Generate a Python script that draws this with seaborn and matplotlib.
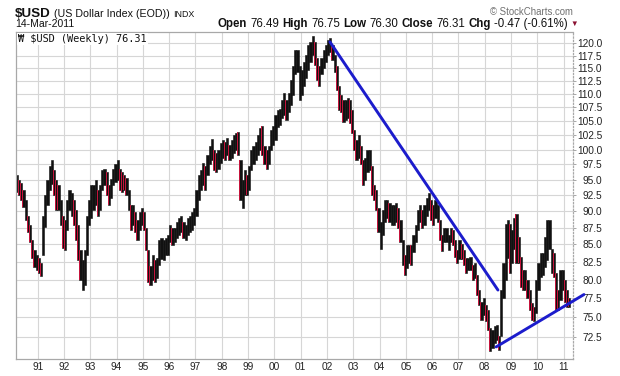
import numpy as np
import pandas as pd
import matplotlib
matplotlib.use("Agg")
import matplotlib.pyplot as plt
import seaborn as sns

# -----------------------------------
# Data (monthly low / high)
# -----------------------------------
first_month = "1990-03"

lows = [
    # 1990 (Mar-Dec)
    93.0, 92.5, 91.7, 90.6, 88.6, 86.8, 85.4, 83.0, 81.7, 81.4,
    # 1991
    80.9, 80.5, 83.5, 87.6, 90.9, 93.3, 94.2, 92.5, 90.1, 90.1, 87.9, 84.5,
    # 1992
    84.2, 87.1, 90.1, 89.3, 87.9, 85.6, 82.7, 80.0, 78.6, 79.3, 83.5, 87.9,
    # 1993
    88.9, 90.1, 90.9, 89.3, 90.1, 93.3, 94.1, 92.5, 90.9, 92.0, 94.1, 94.6,
    # 1994
    94.9, 93.3, 93.0, 93.3, 92.5, 90.1, 87.1, 87.9, 86.8, 85.6, 87.1, 87.9,
    # 1995
    87.1, 84.2, 79.7, 79.3, 80.0, 79.7, 80.3, 82.0, 82.9, 82.7, 83.5, 83.5,
    # 1996
    85.3, 84.9, 85.3, 85.9, 86.4, 86.8, 85.9, 85.6, 86.4, 86.8, 87.1, 87.9,
    # 1997
    89.3, 91.7, 93.3, 94.1, 93.3, 95.7, 97.5, 98.2, 96.5, 96.2, 96.8, 97.8,
    # 1998
    98.5, 98.2, 99.0, 98.2, 98.5, 99.4, 99.9, 99.0, 91.7, 90.4, 92.5, 92.5,
    # 1999
    93.3, 96.5, 97.5, 98.2, 99.0, 99.9, 99.0, 97.5, 96.8, 97.5, 99.9, 100.8,
    # 2000
    101.6, 103.9, 104.4, 105.6, 106.1, 105.2, 106.6, 107.9, 109.8, 113.8, 114.2, 108.8,
    # 2001
    109.8, 111.6, 113.0, 114.6, 116.2, 117.6, 115.6, 112.6, 111.6, 113.8, 115.0, 116.2,
    # 2002
    117.6, 118.2, 116.6, 114.2, 110.7, 107.0, 106.7, 104.9, 105.2, 105.6, 104.6, 102.9,
    # 2003
    99.9, 98.2, 98.5, 97.5, 94.1, 94.9, 96.2, 96.5, 92.5, 91.7, 90.1, 86.8,
    # 2004
    84.4, 86.4, 88.3, 88.9, 88.3, 87.9, 87.9, 88.3, 87.4, 85.3, 82.0, 80.6,
    # 2005
    81.6, 82.4, 82.0, 83.9, 85.3, 87.1, 88.3, 87.4, 87.9, 89.3, 90.1, 88.6,
    # 2006
    87.9, 88.9, 88.3, 85.6, 84.0, 85.3, 85.4, 84.2, 85.3, 84.9, 83.2, 82.4,
    # 2007
    82.9, 82.9, 82.0, 80.9, 81.3, 81.3, 80.0, 80.3, 78.0, 76.6, 74.7, 75.3,
    # 2008
    74.5, 73.4, 70.8, 71.2, 71.8, 72.2, 70.9, 72.6, 77.5, 80.0, 83.0, 81.0,
    # 2009
    82.3, 84.4, 82.3, 82.3, 79.0, 78.6, 78.6, 77.6, 75.9, 74.7, 74.5, 75.6,
    # 2010
    78.6, 80.4, 80.6, 81.7, 82.7, 84.4, 81.0, 80.4, 75.9, 75.9, 77.3, 78.6,
    # 2011 (Jan-Mar)
    77.0, 76.3, 76.3,
]

highs = [
    # 1990 (Mar-Dec)
    95.7, 94.9, 94.4, 93.3, 91.7, 89.3, 87.9, 85.6, 84.2, 83.5,
    # 1991
    83.0, 82.3, 89.3, 92.5, 94.9, 97.3, 98.3, 96.5, 94.9, 94.1, 91.7, 89.3,
    # 1992
    88.6, 91.7, 93.3, 92.8, 91.7, 90.1, 87.9, 84.2, 82.7, 84.2, 89.3, 91.7,
    # 1993
    94.1, 94.1, 94.9, 93.3, 94.1, 96.5, 96.8, 96.2, 94.1, 95.1, 96.8, 97.5,
    # 1994
    98.2, 96.8, 96.2, 95.7, 95.2, 93.3, 90.9, 90.9, 89.8, 88.6, 89.8, 90.4,
    # 1995
    89.8, 87.4, 84.2, 81.9, 83.5, 82.7, 83.0, 85.6, 85.9, 85.6, 85.9, 86.4,
    # 1996
    87.9, 87.4, 87.4, 88.3, 88.9, 89.3, 88.3, 87.9, 88.9, 89.3, 89.8, 90.4,
    # 1997
    93.3, 95.7, 96.5, 97.7, 97.3, 99.0, 100.7, 101.9, 99.9, 99.5, 99.9, 101.1,
    # 1998
    101.6, 101.3, 102.0, 100.8, 101.6, 102.6, 102.9, 103.0, 98.2, 94.9, 96.5, 95.7,
    # 1999
    97.3, 99.9, 100.7, 101.3, 102.5, 103.7, 104.2, 100.7, 99.9, 100.7, 103.4, 104.2,
    # 2000
    106.1, 107.0, 107.3, 108.8, 110.2, 108.8, 110.2, 112.6, 115.5, 118.6, 118.6, 115.5,
    # 2001
    114.6, 116.2, 117.6, 119.6, 120.3, 121.5, 120.3, 117.0, 115.5, 117.0, 118.6, 119.6,
    # 2002
    120.7, 121.1, 119.6, 117.6, 115.5, 111.5, 109.8, 108.8, 108.8, 109.2, 108.8, 107.0,
    # 2003
    103.4, 101.6, 102.5, 100.7, 98.2, 98.5, 99.9, 99.9, 97.3, 94.1, 93.3, 90.4,
    # 2004
    88.3, 90.1, 91.7, 91.7, 91.2, 90.9, 90.9, 91.2, 90.4, 88.6, 85.6, 83.5,
    # 2005
    84.9, 84.9, 84.9, 86.4, 87.9, 90.1, 90.9, 90.1, 90.9, 92.0, 92.8, 91.7,
    # 2006
    90.9, 91.7, 90.9, 88.6, 86.4, 87.4, 87.4, 86.4, 87.4, 87.1, 85.6, 84.2,
    # 2007
    85.6, 85.1, 84.2, 83.0, 83.0, 83.2, 82.0, 82.4, 80.6, 78.6, 77.0, 77.6,
    # 2008
    76.6, 76.0, 73.7, 73.4, 73.9, 74.0, 72.6, 78.6, 82.3, 88.1, 88.6, 88.1,
    # 2009
    87.1, 89.0, 89.6, 86.1, 83.2, 81.3, 81.3, 80.0, 78.6, 76.9, 76.3, 80.0,
    # 2010
    82.3, 83.7, 83.7, 86.1, 88.6, 88.6, 84.4, 83.7, 81.0, 78.6, 81.3, 81.3,
    # 2011 (Jan-Mar)
    80.0, 78.6, 77.6,
]

# trend lines (decimal year, index value)
down_trend_x = [2002.11, 2008.50]
down_trend_y = [120.3, 78.6]
up_trend_x = [2008.43, 2011.77]
up_trend_y = [71.3, 78.0]

y_ticks = [72.5, 75.0, 77.5, 80.0, 82.5, 85.0, 87.5, 90.0, 92.5, 95.0,
           97.5, 100.0, 102.5, 105.0, 107.5, 110.0, 112.5, 115.0, 117.5, 120.0]
years = list(range(1991, 2012))
year_labels = ["91", "92", "93", "94", "95", "96", "97", "98", "99", "00",
               "01", "02", "03", "04", "05", "06", "07", "08", "09", "10", "11"]

# -----------------------------------
# Prepare frame
# -----------------------------------
dates = pd.date_range(first_month, periods=len(lows), freq="MS")
df = pd.DataFrame({
    "x": dates.year + (dates.month - 1) / 12,
    "low": lows,
    "high": highs,
})
df["mid"] = (df["low"] + df["high"]) / 2
df["down"] = df["mid"].diff().fillna(0) < 0
down = df[df["down"]]

black = "#111111"
red = "#c4143c"
blue = "#1c1ccc"

# -----------------------------------
# Style
# -----------------------------------
sns.set_style("white")
plt.rcParams["font.family"] = ["Liberation Sans", "DejaVu Sans"]

W, H = 620, 376
fig = plt.figure(figsize=(W / 100, H / 100), dpi=100)

left, right, top, bottom = 16, 573.3, 32, 359.3
ax = fig.add_axes([left / W, 1 - bottom / H, (right - left) / W, (bottom - top) / H])

ax.set_yscale("log")

# bars: black body, red streak on down months
ax.bar(
    df["x"],
    df["high"] - df["low"],
    bottom=df["low"],
    width=1 / 12,
    align="edge",
    color=black,
    linewidth=0.4,
    edgecolor=black,
    zorder=2,
)
ax.bar(
    down["x"],
    down["high"] - down["low"],
    bottom=down["low"],
    width=0.4 / 12,
    align="edge",
    color=red,
    linewidth=0,
    zorder=2.5,
)

# trend lines
sns.lineplot(x=down_trend_x, y=down_trend_y, color=blue, lw=2.1,
             estimator=None, ax=ax, zorder=3)
sns.lineplot(x=up_trend_x, y=up_trend_y, color=blue, lw=2.1,
             estimator=None, ax=ax, zorder=3, clip_on=False)

# axes limits
ax.set_xlim(1990.175, 2011.365)
ax.set_ylim(69.8, 122.35)

# y axis on the right
ax.yaxis.tick_right()
ax.set_yticks(y_ticks)
ax.set_yticklabels([f"{v:.1f}" for v in y_ticks])
ax.yaxis.set_minor_locator(matplotlib.ticker.NullLocator())
ax.tick_params(axis="y", which="major", direction="out", length=2.2,
               width=0.6, color="#999999", labelsize=7.3, labelcolor="#222222",
               pad=18.6)
for lab in ax.get_yticklabels():
    lab.set_horizontalalignment("right")

# x axis years
ax.set_xticks(years)
ax.set_xticklabels(year_labels)
ax.xaxis.set_minor_locator(matplotlib.ticker.NullLocator())
ax.tick_params(axis="x", length=0, labelsize=7.3, labelcolor="#222222", pad=2)

# grid
ax.grid(True, color="#d6d6d6", lw=0.8)
ax.set_axisbelow(True)
ax.set_xlabel("")
ax.set_ylabel("")

for side in ["left", "bottom", "top"]:
    ax.spines[side].set_color("#a8a8a8")
    ax.spines[side].set_linewidth(0.9)
ax.spines["right"].set_color("#a8a8a8")
ax.spines["right"].set_linestyle(":")
ax.spines["right"].set_linewidth(0.9)

# -----------------------------------
# Header texts (flowed left to right)
# -----------------------------------
renderer = fig.canvas.get_renderer()


def fx(px):
    return px / W


def fy(py):
    return 1 - py / H


def flow(x0, y0, parts, gap):
    x = x0
    for txt, size, weight in parts:
        t = fig.text(fx(x), fy(y0), txt, fontsize=size, fontweight=weight,
                     va="baseline", color="#111111")
        x += t.get_window_extent(renderer=renderer).width + gap
    return x


flow(15, 16.8, [
    ("$USD", 9.6, "bold"),
    ("(US Dollar Index (EOD))", 7.7, "normal"),
    ("INDX", 6.4, "normal"),
], 3.5)

fig.text(fx(15), fy(26.8), "14-Mar-2011", fontsize=7.5, va="baseline",
         color="#111111")

end_x = flow(218, 26.8, [
    ("Open", 8.3, "bold"), ("76.49", 8.3, "normal"),
    ("High", 8.3, "bold"), ("76.75", 8.3, "normal"),
    ("Low", 8.3, "bold"), ("76.30", 8.3, "normal"),
    ("Close", 8.3, "bold"), ("76.31", 8.3, "normal"),
    ("Chg", 8.3, "bold"), ("-0.47 (-0.61%)", 8.3, "normal"),
], 3.2)
fig.text(fx(end_x), fy(26), "\u25bc", fontsize=5.5, color="#8a1030",
         va="baseline")

fig.text(fx(573), fy(15), "\u00a9 StockCharts.com", fontsize=6.9,
         color="#707070", va="baseline", ha="right")

# legend label inside plot
ax.text(0.004, 0.994, "\u20a9 $USD (Weekly) 76.31", transform=ax.transAxes,
        fontsize=7.4, family=["DejaVu Sans Mono"], va="top", ha="left",
        color="#111111", zorder=5,
        bbox=dict(facecolor="white", edgecolor="none", pad=0.8))

fig.savefig("out.png", dpi=100)
